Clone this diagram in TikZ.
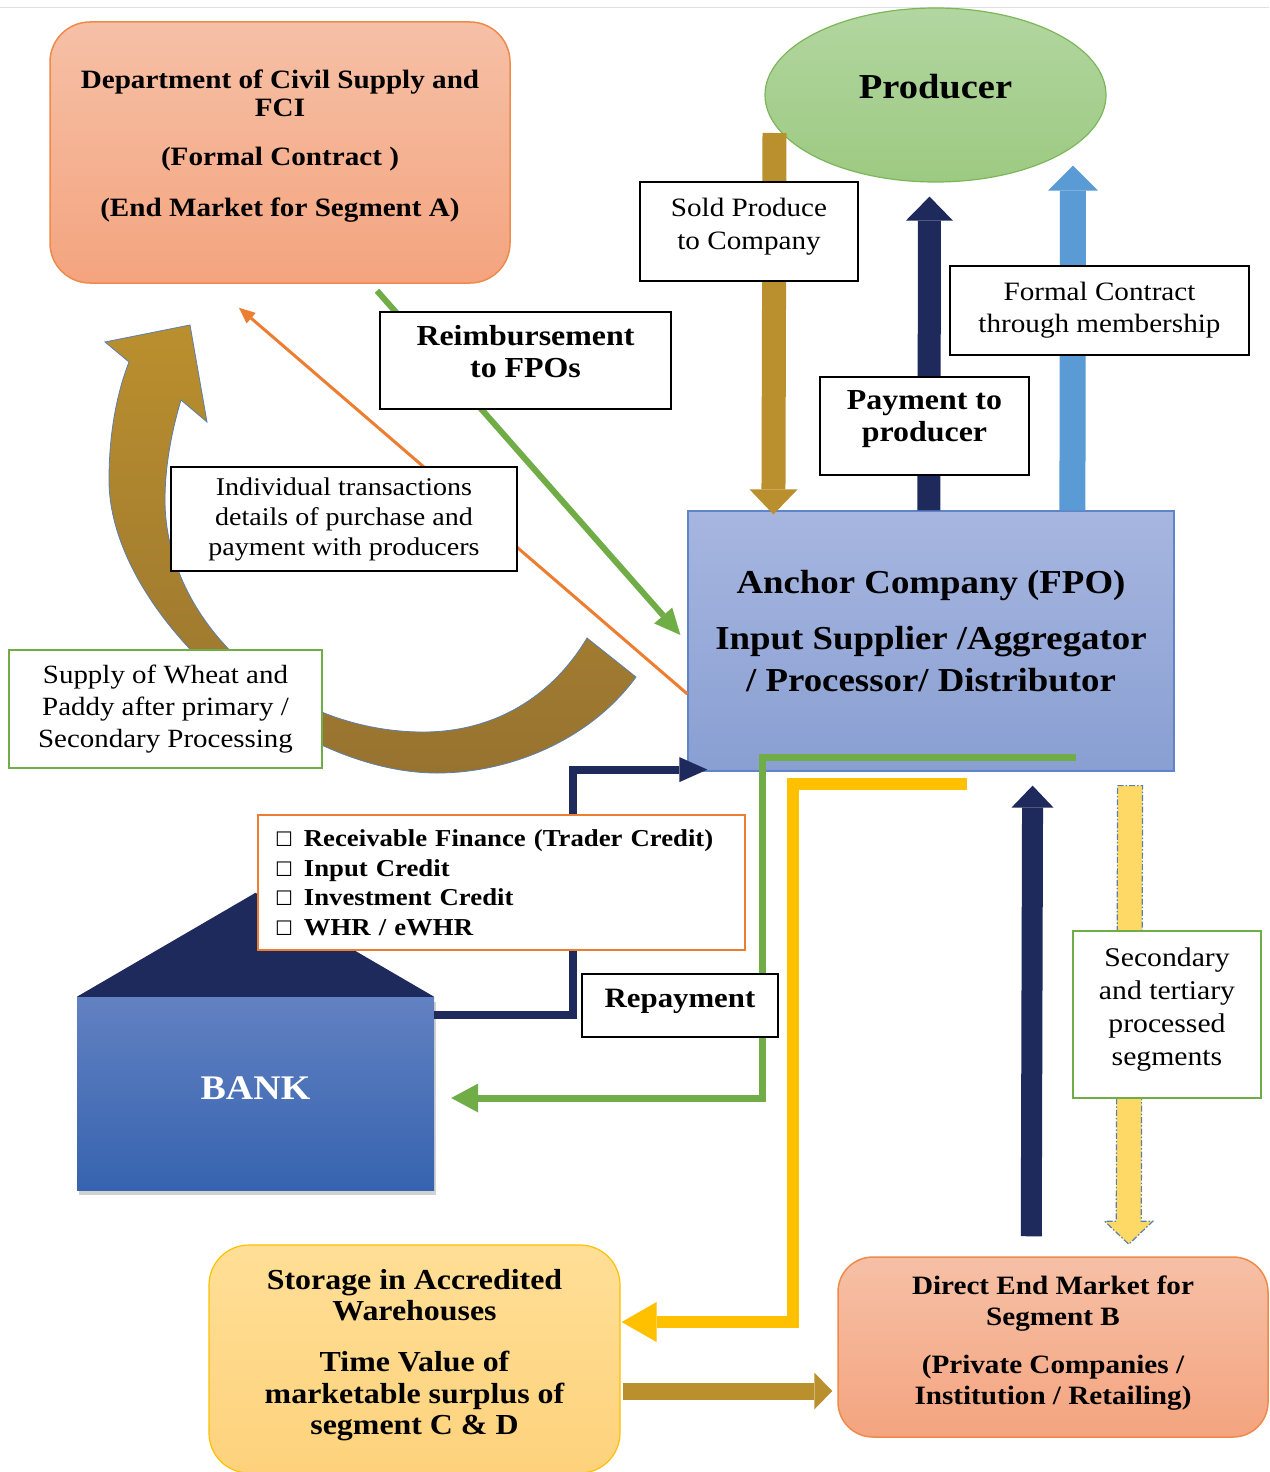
\documentclass[tikz,border=0pt]{standalone}
\usepackage{fontspec}
\setmainfont{Liberation Serif}[FakeStretch=1.1]
\newfontfamily\boxfont{DejaVu Sans}
\usetikzlibrary{calc,arrows.meta,shapes.geometric,shadows}
\definecolor{salmontop}{HTML}{F6C0A6}
\definecolor{salmonbot}{HTML}{F4A47F}
\definecolor{salmonline}{HTML}{F08A4B}
\definecolor{prodtop}{HTML}{B2D6A0}
\definecolor{prodbot}{HTML}{9DCA82}
\definecolor{prodline}{HTML}{7CB65A}
\definecolor{anchortop}{HTML}{A7B6E0}
\definecolor{anchorbot}{HTML}{899FD2}
\definecolor{anchorline}{HTML}{5F84C8}
\definecolor{banktop}{HTML}{6281C2}
\definecolor{bankbot}{HTML}{3663AF}
\definecolor{darknavy}{HTML}{1F2A5C}
\definecolor{goldbrown}{HTML}{BA8F2E}
\definecolor{golddark}{HTML}{977330}
\definecolor{skyblue}{HTML}{5B9BD5}
\definecolor{leaf}{HTML}{70AD47}
\definecolor{fcorange}{HTML}{ED7D31}
\definecolor{amber}{HTML}{FFC000}
\definecolor{butter}{HTML}{FFD966}
\definecolor{storetop}{HTML}{FFDF96}
\definecolor{storebot}{HTML}{FED27C}
\definecolor{steelline}{HTML}{5A7FAE}
\newcommand{\credititem}{{\boxfont\fontsize{20}{20}\selectfont ☐}\hspace{11pt}}

\begin{document}
\begin{tikzpicture}[x=1pt, y=-1pt,
		market/.style = {draw=salmonline, line width=1.5pt, rounded corners=40pt, top color=salmontop, bottom color=salmonbot, align=center},
		textbox/.style = {draw, line width=1.3pt, fill=white, align=center}]
	\path[use as bounding box, fill=white] (0,0) rectangle (1269,1472);
	\draw[line width=1pt, black!12] (0,8) -- (1269,8);
	\node[market, minimum width=460pt, minimum height=261pt, font=\bfseries\fontsize{26.5}{28}\selectfont] (dcs) at (280,152.5) {Department of Civil Supply and\\FCI\\[21pt](Formal Contract )\\[23pt](End Market for Segment A)\\[-9pt]\mbox{}};
	\node[ellipse, draw=prodline, line width=1.2pt, top color=prodtop, bottom color=prodbot, minimum width=341pt, minimum height=174pt, text depth=18pt, font=\bfseries\fontsize{35}{40}\selectfont] (prod) at (935.5,95) {Producer};
	\node[draw=anchorline, line width=1.2pt, top color=anchortop, bottom color=anchorbot, minimum width=486pt, minimum height=260pt, align=center, font=\bfseries\fontsize{33.5}{42}\selectfont] (anchor) at (931,641) {Anchor Company (FPO)\\[14pt]Input Supplier /Aggregator\\/ Processor/ Distributor\\[-21pt]\mbox{}};
	\node[top color=banktop, bottom color=bankbot, minimum width=357pt, minimum height=193pt, text=white, text depth=10pt, font=\bfseries\fontsize{34.5}{40}\selectfont, drop shadow={shadow xshift=2pt, shadow yshift=-5pt, opacity=.35}] (bank) at (255.5,1093.5) {BANK};
	\fill[darknavy] (bank.north west) -- ($(bank.north)+(0,-104)$) -- (bank.north east) -- cycle;
	\node[draw=amber, line width=1.2pt, rounded corners=40pt, top color=storetop, bottom color=storebot, minimum width=411pt, minimum height=228pt, align=center, font=\bfseries\fontsize{29}{31.5}\selectfont] (storage) at (414.5,1359) {Storage in Accredited\\Warehouses\\[19.5pt]Time Value of\\marketable surplus of\\segment C \& D\\[-17.5pt]\mbox{}};
	\node[market, minimum width=430pt, minimum height=180pt, rounded corners=35pt, font=\bfseries\fontsize{26.5}{30.5}\selectfont] (direct) at (1053,1347) {Direct End Market for\\Segment B\\[18pt](Private Companies /\\Institution / Retailing)\\[-16.5pt]\mbox{}};
	\draw[draw=steelline, line width=.8pt, top color=goldbrown, bottom color=golddark] (636,677) .. controls (590,740) and (510,773) .. (437,773)
		.. controls (289,773) and (109,612) .. (109,480)
		.. controls (109,430) and (118,390) .. (129,362)
		-- (105,342) -- (190,325) -- (207,422) -- (181,400)
		.. controls (172,430) and (165,465) .. (165,500)
		.. controls (165,620) and (280,730) .. (420,732)
		.. controls (490,733) and (550,700) .. (587,638) -- cycle;
	\draw[goldbrown, line width=24pt, -{Triangle[width=48pt, length=25pt, line width=0pt]}] ($(prod.center)+(-161,38)$) -- ($(anchor.north west)+(86,4)$);
	\draw[darknavy, line width=23pt, -{Triangle[width=47pt, length=24pt, line width=0pt]}] ($(anchor.north west)+(241.5,0)$) -- ($(prod.south)+(-6,14)$);
	\draw[skyblue, line width=26pt, -{Triangle[width=50pt, length=25pt, line width=0pt]}] ($(anchor.north west)+(385,0)$) -- ($(prod.south)+(137.5,-17)$);
	\draw[leaf, line width=6pt, -{Triangle[width=24pt, length=26pt, line width=0pt]}] ($(dcs.south)+(97,7)$) -- ($(anchor.west)+(-7,-6)$);
	\draw[fcorange, line width=3pt, -{Triangle[width=14pt, length=16pt, line width=0pt]}] ($(anchor.west)+(0,53)$) -- ($(dcs.south)+(-41,24)$);
	\draw[darknavy, line width=8pt, -{Triangle[width=25pt, length=28pt, line width=0pt]}] ($(bank.north east)+(0,18)$) -| ($(anchor.south west)+(-114,-2)$) -- ($(anchor.south west)+(20,-2)$);
	\draw[leaf, line width=7pt, -{Triangle[width=29pt, length=27pt, line width=0pt]}] ($(anchor.south east)+(-99,-14)$) -| ($(bank.east)+(328,4.5)$) -- ($(bank.east)+(17,4.5)$);
	\draw[amber, line width=12pt, -{Triangle[width=40pt, length=35pt, line width=0pt]}] ($(anchor.south)+(36,12)$) -| ($(storage.east)+(172,-37)$) -- ($(storage.east)+(1,-37)$);
	\draw[darknavy, line width=21pt, -{Triangle[width=42pt, length=22pt, line width=0pt]}] ($(direct.north west)+(194,-20)$) -- ($(anchor.south east)+(-142,14)$);
	\coordinate (ytop) at ($(anchor.south east)+(-44.5,14)$);
	\coordinate (ytip) at ($(direct.north west)+(291.5,-12)$);
	\draw[steelline, line width=1.2pt, dash pattern=on 6pt off 2pt on 1.5pt off 2pt, fill=butter] ($(ytop)+(-12.5,0)$) -- ($(ytop)+(12.5,0)$) -- ($(ytip)+(12.5,-23)$) -- ($(ytip)+(24,-23)$) -- (ytip) -- ($(ytip)+(-24,-23)$) -- ($(ytip)+(-12.5,-23)$) -- cycle;
	\draw[goldbrown, line width=17pt, -{Triangle[width=37pt, length=18pt, line width=0pt]}] ($(storage.east)+(2,32)$) -- ($(direct.west)+(-5,44)$);
	\node[textbox, minimum width=218pt, minimum height=99pt, font=\fontsize{26.5}{33}\selectfont] (sold) at (749,231.5) {Sold Produce\\to Company\\[-17pt]\mbox{}};
	\node[textbox, minimum width=299pt, minimum height=89pt, font=\fontsize{26.5}{32}\selectfont] (formal) at (1099.5,310.5) {Formal Contract\\through membership};
	\node[textbox, minimum width=291pt, minimum height=97pt, font=\bfseries\fontsize{29}{32}\selectfont] (reimb) at (525.5,360.5) {Reimbursement\\to FPOs\\[-14pt]\mbox{}};
	\node[textbox, minimum width=209pt, minimum height=98pt, font=\bfseries\fontsize{29}{32}\selectfont] (pay) at (924.5,426) {Payment to\\producer\\[-12pt]\mbox{}};
	\node[textbox, minimum width=346pt, minimum height=104pt, font=\fontsize{25.5}{30}\selectfont] (indiv) at (344,519) {Individual transactions\\details of purchase and\\payment with producers};
	\node[textbox, draw=leaf, line width=1.2pt, minimum width=313pt, minimum height=118pt, font=\fontsize{26.3}{32}\selectfont] (supply) at (165.5,709) {Supply of Wheat and\\Paddy after primary /\\Secondary Processing};
	\node[textbox, draw=fcorange, align=left, text width=453pt, minimum width=487pt, minimum height=135pt, font=\bfseries\fontsize{24.3}{29.5}\selectfont] (credit) at (501.5,882.5) {\credititem Receivable Finance (Trader Credit)\\\credititem Input Credit\\\credititem Investment Credit\\\credititem WHR / eWHR};
	\node[textbox, minimum width=196pt, minimum height=63pt, text depth=14pt, font=\bfseries\fontsize{28}{32}\selectfont] (repay) at (680,1005.5) {Repayment};
	\node[textbox, draw=leaf, line width=1.2pt, minimum width=188pt, minimum height=167pt, font=\fontsize{27}{33}\selectfont] (second) at (1167,1014.5) {Secondary\\and tertiary\\processed\\segments\\[-17pt]\mbox{}};
\end{tikzpicture}
\end{document}
